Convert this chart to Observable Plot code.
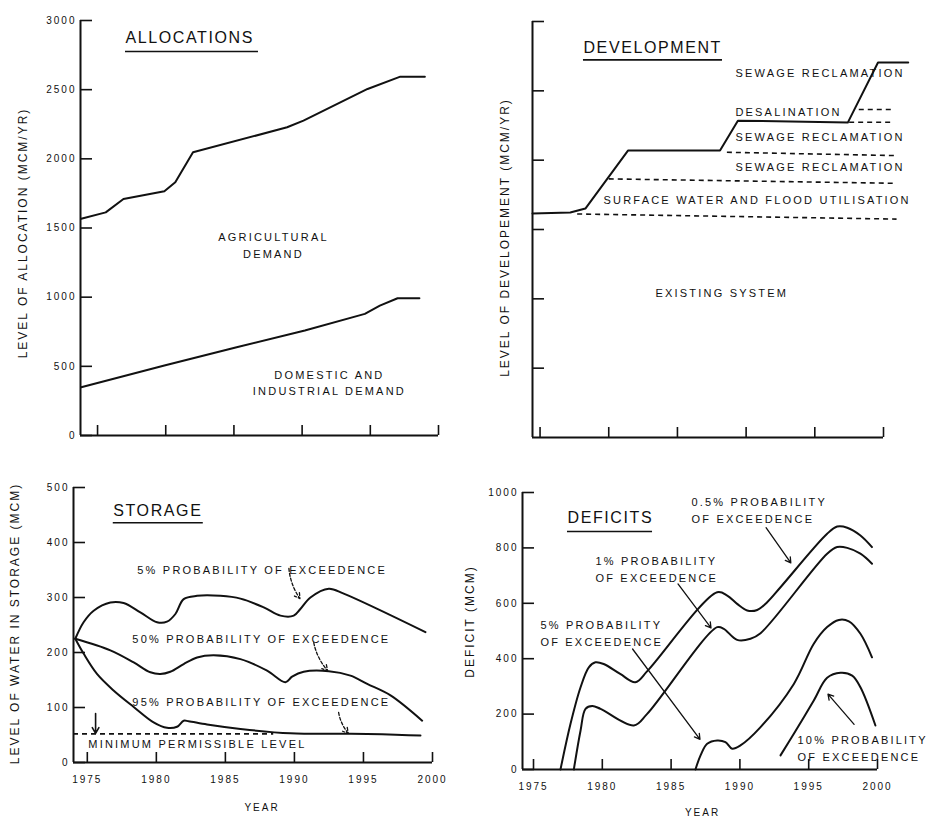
<!DOCTYPE html>
<html>
<head>
<meta charset="utf-8">
<script src="https://cdn.jsdelivr.net/npm/d3@7"></script>
<script src="https://cdn.jsdelivr.net/npm/@observablehq/plot@0.6"></script>
<style>
  body { margin: 0; background: #fff; }
  #wrap { position: relative; width: 927px; height: 821px; background: #fff; overflow: hidden; }
  #wrap svg { position: absolute; overflow: visible; }
  #wrap svg text { letter-spacing: 2px; }
  #wrap g[font-size="11"] text { letter-spacing: 2.2px; }
  #wrap g[font-size="16"] text { letter-spacing: 1.6px; }
  #wrap g[font-size="12"] text { letter-spacing: 2px; }
</style>
</head>
<body>
<div id="wrap"></div>
<script>
// ---------- shared ticks ----------
const yearTicks = [1975, 1980, 1985, 1990, 1995, 2000];
const allocTicks = [0, 500, 1000, 1500, 2000, 2500, 3000];
const devTicks = [500, 1000, 1500, 2000, 2500, 3000];
const storageTicks = [0, 100, 200, 300, 400, 500];
const deficitTicks = [0, 200, 400, 600, 800, 1000];

// ---------- ALLOCATIONS (MCM/yr) ----------
const agriYear  = [1973.8, 1975.6, 1976.9, 1979.9, 1980.7, 1982.0, 1988.9, 1990.1, 1994.8, 1997.2, 1999.0];
const agriValue = [1567, 1613, 1710, 1765, 1830, 2047, 2228, 2276, 2505, 2594, 2594];
const domYear   = [1973.8, 1979.9, 1985.2, 1990.2, 1994.6, 1995.7, 1997.0, 1998.6];
const domValue  = [349, 506, 638, 759, 879, 939, 992, 992];

// ---------- DEVELOPMENT (MCM/yr) ----------
const devYear  = [1974.45, 1977.2, 1978.3, 1981.4, 1988.1, 1989.4, 1997.4, 1999.6, 2001.8];
const devValue = [1615, 1622, 1651, 2069, 2069, 2285, 2271, 2704, 2704];
const devLevelName  = ["Existing system", "Surface water and flood utilisation", "Sewage reclamation", "Sewage reclamation", "Desalination"];
const devLevelStart = [1977.7, 1980.0, 1988.6, 1997.5, 1998.2];
const devLevelEnd   = [2000.95, 2000.95, 2000.95, 2000.6, 2000.7];
const devLevelFrom  = [1612, 1865, 2057, 2273, 2365];
const devLevelTo    = [1575, 1833, 2033, 2273, 2365];

// ---------- STORAGE (MCM) ----------
const st5Year   = [1974.13, 1974.73, 1975.46, 1976.67, 1977.63, 1978.84, 1980.05, 1980.77, 1981.38, 1981.98, 1982.95, 1984.64, 1986.09, 1987.78, 1988.99, 1989.95, 1990.43, 1991.16, 1992.49, 1993.57, 1999.49];
const st5Value  = [225, 255, 276, 291, 290, 273, 255, 256, 270, 297, 303, 303, 298, 282, 267, 267, 279, 300, 316, 307, 237];
const st50Year  = [1974.13, 1976.67, 1978.36, 1979.57, 1980.29, 1981.01, 1981.98, 1982.95, 1984.15, 1986.09, 1988.02, 1989.35, 1989.83, 1990.67, 1992.49, 1994.06, 1995.27, 1996.96, 1999.25];
const st50Value = [225, 204, 182, 164, 161, 165, 179, 191, 195, 188, 167, 146, 156, 165, 166, 158, 143, 122, 76];
const st95Year  = [1974.13, 1974.73, 1975.7, 1976.9, 1978.36, 1979.8, 1980.77, 1981.5, 1981.98, 1982.34, 1983.67, 1986.09, 1989.7, 1995.27, 1999.13];
const st95Value = [225, 198, 161, 131, 101, 73, 63, 65, 76, 75, 69, 61, 53, 52, 49];
const minLevel = 52, minLevelFrom = 1974.0, minLevelTo = 1988.5;

// ---------- DEFICITS (MCM) ----------
const d05Year  = [1976.96, 1977.69, 1978.42, 1979.02, 1979.5, 1980.1, 1981.3, 1982.4, 1983.3, 1988.35, 1989.08, 1989.8, 1990.53, 1991.26, 1991.98, 1992.95, 1996.34, 1997.07, 1997.8, 1998.76, 1999.6];
const d05Value = [0, 165, 297, 369, 387, 381, 345, 315, 357, 640, 628, 598, 574, 576, 604, 658, 851, 877, 873, 845, 803];
const d1Year   = [1977.93, 1978.42, 1978.78, 1979.27, 1979.87, 1982.29, 1983.26, 1988.35, 1988.83, 1989.8, 1990.77, 1991.5, 1996.34, 1997.07, 1997.8, 1998.76, 1999.6];
const d1Value  = [0, 141, 219, 229, 219, 159, 201, 514, 508, 468, 472, 492, 779, 803, 800, 779, 743];
const d5Year   = [1986.77, 1987.14, 1987.62, 1988.35, 1988.95, 1989.44, 1990.04, 1991.5, 1993.92, 1995.37, 1996.34, 1997.19, 1997.92, 1998.76, 1999.6];
const d5Value  = [0, 51, 93, 105, 99, 75, 87, 153, 309, 454, 514, 540, 535, 490, 405];
const d10Year  = [1992.95, 1993.92, 1995.37, 1996.34, 1997.31, 1998.16, 1998.76, 1999.85];
const d10Value = [51, 129, 249, 331, 349, 339, 297, 159];

// ---------- annotations ----------
const allocLabels = [
  {x: 1987.9, y: 1384, text: "AGRICULTURAL\nDEMAND"},
  {x: 1992.0, y: 387, text: "DOMESTIC AND\nINDUSTRIAL DEMAND"}
];
const devLabels = [
  {x: 1989.22, y: 2622, text: "SEWAGE RECLAMATION"},
  {x: 1989.22, y: 2341, text: "DESALINATION"},
  {x: 1989.22, y: 2161, text: "SEWAGE RECLAMATION"},
  {x: 1989.22, y: 1945, text: "SEWAGE RECLAMATION"},
  {x: 1979.62, y: 1707, text: "SURFACE WATER AND FLOOD UTILISATION"},
  {x: 1983.4, y: 1037, text: "EXISTING SYSTEM"}
];
const storageLabels = [
  {x: 1978.62, y: 349, text: "5% PROBABILITY OF EXCEEDENCE"},
  {x: 1978.26, y: 224, text: "50% PROBABILITY OF EXCEEDENCE"},
  {x: 1978.26, y: 109, text: "95% PROBABILITY OF EXCEEDENCE"},
  {x: 1975.07, y: 33, text: "MINIMUM PERMISSIBLE LEVEL"}
];
const storageArrows = [
  {x1: 1989.6, y1: 353, x2: 1990.4, y2: 298},
  {x1: 1991.4, y1: 218, x2: 1992.4, y2: 167},
  {x1: 1993.2, y1: 91, x2: 1993.9, y2: 53}
];
const minArrow = [{x1: 1975.6, y1: 89, x2: 1975.6, y2: 53}];
const deficitLabels = [
  {x: 1986.48, y: 940, text: "0.5% PROBABILITY\nOF EXCEEDENCE"},
  {x: 1979.5, y: 726, text: "1% PROBABILITY\nOF EXCEEDENCE"},
  {x: 1975.5, y: 495, text: "5% PROBABILITY\nOF EXCEEDENCE"},
  {x: 1994.19, y: 81, text: "10% PROBABILITY\nOF EXCEEDENCE"}
];
const deficitArrows = [
  {x1: 1991.9, y1: 873, x2: 1993.7, y2: 746},
  {x1: 1985.5, y1: 670, x2: 1987.9, y2: 511},
  {x1: 1982.2, y1: 435, x2: 1987.1, y2: 109},
  {x1: 1998.3, y1: 163, x2: 1996.4, y2: 272}
];
const titles = {
  alloc:   {x: 1977.05, y: 2877, text: "ALLOCATIONS", ux2: 1986.8, uy: 2776},
  dev:     {x: 1978.16, y: 2810, text: "DEVELOPMENT", ux2: 1988.28, uy: 2723},
  storage: {x: 1976.88, y: 458, text: "STORAGE", ux2: 1983.4, uy: 436},
  deficit: {x: 1977.47, y: 910, text: "DEFICITS", ux2: 1983.65, uy: 859}
};

// ---------- helpers ----------
const FONT = "'Liberation Sans', Arial, sans-serif";
const INK = "#111";
const wrap = document.getElementById("wrap");
const zip = (xs, ys) => xs.map((x, i) => ({x, y: ys[i]}));

function titleMarks(t) {
  return [
    Plot.text([t], {x: "x", y: "y", text: "text", textAnchor: "start", fontSize: 16, fill: INK}),
    Plot.ruleY([t], {y: "uy", x1: "x", x2: "ux2", strokeWidth: 1.6, stroke: INK})
  ];
}

function panel({left, top, width, height, mt, mr, mb, ml, xDomain, yDomain, yTicks, yLabels, xLabels, yTitle, yTitleDx, yTitleDy, yearDx, yearDy, marks}) {
  const extra = [];
  extra.push(Plot.text([yTitle], {frameAnchor: "left", textAnchor: "middle", lineAnchor: "middle", rotate: -90, dx: yTitleDx, dy: yTitleDy, fontSize: 12, fill: INK}));
  if (xLabels) extra.push(Plot.text(["YEAR"], {frameAnchor: "bottom", textAnchor: "middle", lineAnchor: "middle", dx: yearDx, dy: yearDy, fontSize: 10, fill: INK}));
  const chart = Plot.plot({
    width, height,
    marginTop: mt, marginRight: mr, marginBottom: mb, marginLeft: ml,
    style: {fontFamily: FONT, fontSize: "10px", color: INK, background: "none", overflow: "visible"},
    x: {domain: xDomain},
    y: {domain: yDomain},
    marks: [
      Plot.axisY(yTicks, {tickSize: -12, tickPadding: 16, strokeWidth: 1.6, fontSize: 10, label: null,
        tickFormat: yLabels ? (d) => String(d) : () => ""}),
      Plot.axisX(yearTicks, {tickSize: -10, tickPadding: 23, strokeWidth: 1.6, fontSize: 10, label: null,
        tickFormat: xLabels ? (d) => String(d) : () => ""}),
      Plot.ruleX([xDomain[0]], {strokeWidth: 2, stroke: INK}),
      Plot.ruleY([yDomain[0]], {strokeWidth: 2, stroke: INK}),
      ...marks,
      ...extra
    ]
  });
  chart.style.left = left + "px";
  chart.style.top = top + "px";
  wrap.append(chart);
}

// ---------- Panel 1: Allocations ----------
panel({
  left: 0, top: 0, width: 460, height: 440, mt: 20, mr: 22, mb: 5, ml: 80,
  xDomain: [1973.75, 2000], yDomain: [0, 3000], yTicks: allocTicks, yLabels: true, xLabels: false,
  yTitle: "LEVEL OF ALLOCATION (MCM/YR)", yTitleDx: -57, yTitleDy: 5,
  marks: [
    Plot.line(zip(agriYear, agriValue), {x: "x", y: "y", stroke: INK, strokeWidth: 2}),
    Plot.line(zip(domYear, domValue), {x: "x", y: "y", stroke: INK, strokeWidth: 2}),
    Plot.text(allocLabels, {x: "x", y: "y", text: "text", textAnchor: "middle", lineAnchor: "middle", lineHeight: 1.5, fontSize: 11, fill: INK}),
    ...titleMarks(titles.alloc)
  ]
});

// ---------- Panel 2: Development ----------
const devLevels = devLevelName.map((name, i) => ({name, x1: devLevelStart[i], x2: devLevelEnd[i], y1: devLevelFrom[i], y2: devLevelTo[i]}));
panel({
  left: 460, top: 0, width: 467, height: 440, mt: 21, mr: 44, mb: 3, ml: 72,
  xDomain: [1974.45, 2000], yDomain: [0, 3000], yTicks: devTicks, yLabels: false, xLabels: false,
  yTitle: "LEVEL OF DEVELOPEMENT (MCM/YR)", yTitleDx: -27, yTitleDy: 8,
  marks: [
    Plot.link(devLevels, {x1: "x1", y1: "y1", x2: "x2", y2: "y2", stroke: INK, strokeWidth: 1.6, strokeDasharray: "5,4"}),
    Plot.line(zip(devYear, devValue), {x: "x", y: "y", stroke: INK, strokeWidth: 2}),
    Plot.text(devLabels, {x: "x", y: "y", text: "text", textAnchor: "start", lineAnchor: "middle", fontSize: 11, fill: INK}),
    ...titleMarks(titles.dev)
  ]
});

// ---------- Panel 3: Storage ----------
panel({
  left: 0, top: 440, width: 460, height: 381, mt: 47, mr: 28, mb: 59, ml: 73,
  xDomain: [1974, 2000], yDomain: [0, 500], yTicks: storageTicks, yLabels: true, xLabels: true,
  yTitle: "LEVEL OF WATER IN STORAGE (MCM)", yTitleDx: -58, yTitleDy: -1.5, yearDx: 9, yearDy: 45,
  marks: [
    Plot.ruleY([minLevel], {x1: minLevelFrom, x2: minLevelTo, stroke: INK, strokeWidth: 1.6, strokeDasharray: "5,4"}),
    Plot.line(zip(st5Year, st5Value), {x: "x", y: "y", curve: "catmull-rom", stroke: INK, strokeWidth: 2}),
    Plot.line(zip(st50Year, st50Value), {x: "x", y: "y", curve: "catmull-rom", stroke: INK, strokeWidth: 2}),
    Plot.line(zip(st95Year, st95Value), {x: "x", y: "y", curve: "catmull-rom", stroke: INK, strokeWidth: 2}),
    Plot.arrow(storageArrows, {x1: "x1", y1: "y1", x2: "x2", y2: "y2", bend: -15, headLength: 7, stroke: INK, strokeWidth: 1.3, strokeDasharray: "3,2"}),
    Plot.arrow(minArrow, {x1: "x1", y1: "y1", x2: "x2", y2: "y2", headLength: 8, stroke: INK, strokeWidth: 1.6}),
    Plot.text(storageLabels, {x: "x", y: "y", text: "text", textAnchor: "start", lineAnchor: "middle", fontSize: 11, fill: INK}),
    ...titleMarks(titles.storage)
  ]
});

// ---------- Panel 4: Deficits ----------
panel({
  left: 460, top: 440, width: 467, height: 381, mt: 52, mr: 50, mb: 52, ml: 62,
  xDomain: [1974.2, 2000], yDomain: [0, 1000], yTicks: deficitTicks, yLabels: true, xLabels: true,
  yTitle: "DEFICIT (MCM)", yTitleDx: -52, yTitleDy: -9.5, yearDx: 2.5, yearDy: 43,
  marks: [
    Plot.line(zip(d05Year, d05Value), {x: "x", y: "y", curve: "catmull-rom", stroke: INK, strokeWidth: 2}),
    Plot.line(zip(d1Year, d1Value), {x: "x", y: "y", curve: "catmull-rom", stroke: INK, strokeWidth: 2}),
    Plot.line(zip(d5Year, d5Value), {x: "x", y: "y", curve: "catmull-rom", stroke: INK, strokeWidth: 2}),
    Plot.line(zip(d10Year, d10Value), {x: "x", y: "y", curve: "catmull-rom", stroke: INK, strokeWidth: 2}),
    Plot.arrow(deficitArrows, {x1: "x1", y1: "y1", x2: "x2", y2: "y2", headLength: 7, stroke: INK, strokeWidth: 1.3}),
    Plot.text(deficitLabels, {x: "x", y: "y", text: "text", textAnchor: "start", lineAnchor: "middle", lineHeight: 1.5, fontSize: 11, fill: INK}),
    ...titleMarks(titles.deficit)
  ]
});
</script>
</body>
</html>
